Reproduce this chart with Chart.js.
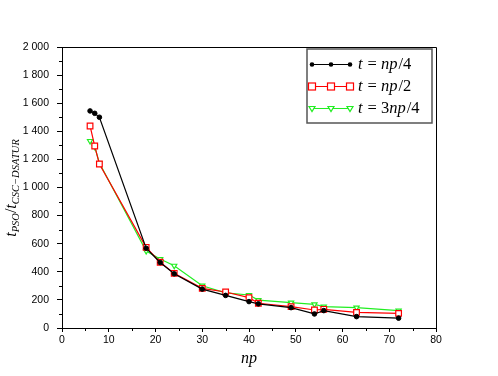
<!DOCTYPE html>
<html><head><meta charset="utf-8">
<script src="https://cdn.jsdelivr.net/npm/chart.js@4/dist/chart.umd.min.js"></script>
<style>html,body{margin:0;padding:0;background:#fff}#wrap{width:498px;height:376px}</style>
</head><body><div id="wrap"><canvas id="c" width="498" height="376"></canvas></div>
<script>
const npValues = [6,7,8,18,21,24,30,35,40,42,49,54,56,63,72];
const seriesQuarter = [1545,1528,1500,568,466,386,277,232,188,172,145,100,124,81,70];
const seriesHalf = [1438,1295,1167,574,468,389,282,256,216,176,152,128,133,111,104];
const seriesThreeQuarter = [1331,1290,1174,548,491,443,301,250,235,199,180,168,152,145,123];
const xTicks = [0,10,20,30,40,50,60,70,80];
const yTicks = [0,200,400,600,800,1000,1200,1400,1600,1800,2000];
const legendLabels = [
  [{t:'t',i:1},{t:' = '},{t:'np',i:1},{t:'/4'}],
  [{t:'t',i:1},{t:' = '},{t:'np',i:1},{t:'/2'}],
  [{t:'t',i:1},{t:' = 3'},{t:'np',i:1},{t:'/4'}]
];
const mk = (arr) => npValues.map((x,i)=>({x:x,y:arr[i]}));
const GREEN = '#22ee22';
const datasets = [
  {data:mk(seriesQuarter), borderColor:'#000', backgroundColor:'#000', borderWidth:1.2,
   pointStyle:'circle', pointRadius:2.3, pointBorderWidth:1, pointBackgroundColor:'#000'},
  {data:mk(seriesHalf), borderColor:'#ff0000', backgroundColor:'#fff', borderWidth:1.2,
   pointStyle:'rect', pointRadius:4, pointBorderWidth:1.2, pointBackgroundColor:'#fff'},
  {data:mk(seriesThreeQuarter), borderColor:GREEN, backgroundColor:'#fff', borderWidth:1.2,
   pointStyle:'triangle', pointRotation:180, pointRadius:3, pointBorderWidth:1.2, pointBackgroundColor:'#fff'}
];
function drawMath(ctx, segs, x, y, size) {
  let cx = x;
  for (const s of segs) {
    ctx.font = (s.i ? 'italic ' : '') + size + 'px "Liberation Serif"';
    let t = s.t;
    if (t.startsWith(' = ')) {
      cx += 4; ctx.fillText('=', cx, y); cx += ctx.measureText('=').width + 4;
      t = t.slice(3);
      if (!t) continue;
    }
    ctx.fillText(t, cx, y);
    cx += ctx.measureText(t).width + (s.i ? 1 : 0);
  }
}
function drawMarker(ctx, ds, x, y) {
  ctx.save();
  ctx.strokeStyle = ds.borderColor; ctx.lineWidth = 1.2;
  if (ds.pointStyle === 'circle') {
    ctx.fillStyle = '#000'; ctx.beginPath(); ctx.arc(x,y,2.3,0,Math.PI*2); ctx.fill();
  } else if (ds.pointStyle === 'rect') {
    ctx.fillStyle = '#fff'; ctx.fillRect(x-3.5,y-3.5,7,7); ctx.strokeRect(x-3.5,y-3.5,7,7);
  } else {
    ctx.fillStyle = '#fff'; ctx.beginPath();
    ctx.moveTo(x-3,y-2); ctx.lineTo(x+3,y-2); ctx.lineTo(x,y+3); ctx.closePath(); ctx.fill(); ctx.stroke();
  }
  ctx.restore();
}
const extras = {
  id:'extras',
  afterDraw(chart) {
    const ctx = chart.ctx, a = chart.chartArea, xs = chart.scales.x, ys = chart.scales.y;
    ctx.save();
    ctx.strokeStyle = '#000'; ctx.lineWidth = 1;
    ctx.beginPath();
    ctx.moveTo(a.left, a.top+0.5); ctx.lineTo(a.right+0.5, a.top+0.5); ctx.lineTo(a.right+0.5, a.bottom);
    ctx.stroke();
    ctx.beginPath();
    for (let v = 5; v < 80; v += 10) { const px = Math.round(xs.getPixelForValue(v))+0.5; ctx.moveTo(px, a.bottom); ctx.lineTo(px, a.bottom+3); }
    for (let v = 100; v < 2000; v += 200) { const py = Math.round(ys.getPixelForValue(v))+0.5; ctx.moveTo(a.left, py); ctx.lineTo(a.left-3, py); }
    ctx.stroke();
    ctx.fillStyle = '#000'; ctx.textBaseline = 'alphabetic';
    ctx.font = 'italic 16px "Liberation Serif"';
    const w = ctx.measureText('np').width;
    ctx.fillText('np', (a.left+a.right)/2 - w/2, 363);
    ctx.translate(16, 188); ctx.rotate(-Math.PI/2);
    const parts = [{t:'t',s:16,o:0},{t:'PSO',s:10.5,o:3},{t:'/',s:16,o:0,u:1},{t:'t',s:16,o:0},{t:'CSC\u2212DSATUR',s:10.5,o:3}];
    let tw = 0;
    for (const p of parts) { ctx.font = (p.u?'':'italic ') + p.s + 'px "Liberation Serif"'; tw += ctx.measureText(p.t).width; }
    let cx = -tw/2;
    for (const p of parts) { ctx.font = (p.u?'':'italic ') + p.s + 'px "Liberation Serif"'; ctx.fillText(p.t, cx, p.o); cx += ctx.measureText(p.t).width; }
    ctx.restore();
    ctx.save();
    const L = 307, T = 49, R = 432, B = 123;
    ctx.fillStyle = '#fff'; ctx.fillRect(L, T, R-L, B-T);
    ctx.strokeStyle = '#555'; ctx.lineWidth = 1.5; ctx.strokeRect(L, T, R-L, B-T);
    const rows = [64, 86, 108];
    chart.data.datasets.forEach((ds, i) => {
      const y = rows[i];
      ctx.strokeStyle = ds.borderColor; ctx.lineWidth = 1.2;
      ctx.beginPath(); ctx.moveTo(312, y+0.5); ctx.lineTo(350, y+0.5); ctx.stroke();
      [312, 331, 350].forEach(px => drawMarker(ctx, ds, px, y+0.5));
      ctx.fillStyle = '#000'; ctx.textBaseline = 'middle';
      drawMath(ctx, legendLabels[i], 358, y+1, 16.5);
    });
    ctx.restore();
  }
};
const fmt = v => String(v).replace(/\B(?=(\d{3})+(?!\d))/g, ' ');
new Chart(document.getElementById('c'), {
  type:'line',
  data:{datasets:datasets},
  options:{
    responsive:false, animation:false, maintainAspectRatio:false,
    layout:{padding:{left:0, top:47, right:62, bottom:0}},
    plugins:{legend:{display:false}, tooltip:{enabled:false}},
    elements:{line:{tension:0}},
    scales:{
      x:{type:'linear', min:0, max:80,
         afterBuildTicks: s => { s.ticks = xTicks.map(v=>({value:v})); },
         afterFit: s => { s.height = 48; },
         border:{display:true, color:'#000', width:1},
         grid:{drawOnChartArea:false, drawTicks:true, tickLength:4, color:'#000'},
         ticks:{color:'#000', padding:2, font:{family:'"Liberation Sans"', size:10.5}, maxRotation:0}},
      y:{type:'linear', min:0, max:2000,
         afterBuildTicks: s => { s.ticks = yTicks.map(v=>({value:v})); },
         afterFit: s => { s.width = 62; },
         border:{display:true, color:'#000', width:1},
         grid:{drawOnChartArea:false, drawTicks:true, tickLength:5, color:'#000'},
         ticks:{color:'#000', padding:8, font:{family:'"Liberation Sans"', size:10.5}, callback: v => fmt(v)}}
    }
  },
  plugins:[extras]
});
</script></body></html>
